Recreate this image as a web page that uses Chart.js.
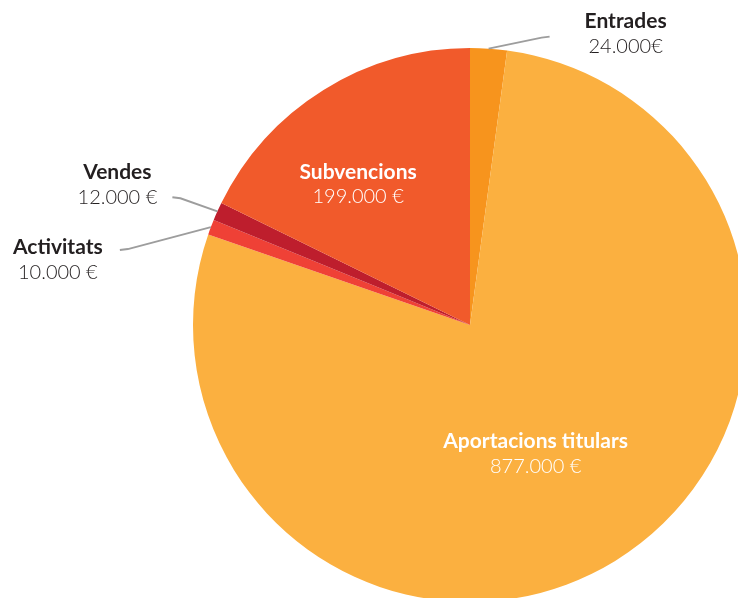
<!DOCTYPE html>
<html>
<head>
<meta charset="utf-8">
<script src="https://cdn.jsdelivr.net/npm/chart.js@4"></script>
<style>
html,body{margin:0;padding:0;background:#fff;overflow:hidden;width:738px;height:598px;}
#wrap{position:absolute;left:0;top:0;width:760px;height:620px;}
</style>
</head>
<body>
<div id="wrap"><canvas id="c" width="760" height="620"></canvas></div>
<script>
const categories = ["Entrades", "Aportacions titulars", "Activitats", "Vendes", "Subvencions"];
const values = [24000, 877000, 10000, 12000, 199000];
const valueLabels = ["24.000€", "877.000 €", "10.000 €", "12.000 €", "199.000 €"];
const colors = ["#F7941D", "#FBB040", "#EF4136", "#BE1E2D", "#F15A2B"];

// label placement styles (inside: polar offset; outside: leader line offsets from arc edge)
const labelStyles = [
  {mode: "out", elbow: [53, -11], tail: [61, -12], text: [137, -15]},
  {mode: "in", angleOffset: 4.5, rFactor: 0.52},
  {mode: "out", elbow: [-83, 22], tail: [-91, 23], text: [-153, 32]},
  {mode: "out", elbow: [-37, -13], tail: [-45, -14], text: [-100, -27]},
  {mode: "in", angleOffset: -6.5, rFactor: 0.65}
];

const FONT = "Lato, 'Open Sans', sans-serif";

const labelPlugin = {
  id: "sliceLabels",
  afterDatasetsDraw(chart) {
    const ctx = chart.ctx;
    const meta = chart.getDatasetMeta(0);
    meta.data.forEach((arc, i) => {
      const p = arc.getProps(["x", "y", "startAngle", "endAngle", "outerRadius"], true);
      const st = labelStyles[i];
      const mid = (p.startAngle + p.endAngle) / 2;
      ctx.save();
      ctx.textAlign = "center";
      ctx.textBaseline = "middle";
      if (st.mode === "in") {
        const a = mid + st.angleOffset * Math.PI / 180;
        const r = p.outerRadius * st.rFactor;
        const cx = p.x + Math.cos(a) * r;
        const cy = p.y + Math.sin(a) * r;
        ctx.fillStyle = "#ffffff";
        ctx.font = "bold 21px " + FONT;
        ctx.fillText(categories[i], cx, cy - 12);
        ctx.font = "300 20px " + FONT;
        ctx.fillText(valueLabels[i], cx, cy + 13);
      } else {
        const ex = p.x + Math.cos(mid) * p.outerRadius;
        const ey = p.y + Math.sin(mid) * p.outerRadius;
        ctx.strokeStyle = "#9d9d9d";
        ctx.lineWidth = 2;
        ctx.beginPath();
        ctx.moveTo(ex, ey);
        ctx.lineTo(ex + st.elbow[0], ey + st.elbow[1]);
        ctx.lineTo(ex + st.tail[0], ey + st.tail[1]);
        ctx.stroke();
        const tx = ex + st.text[0];
        const ty = ey + st.text[1];
        ctx.fillStyle = "#231F20";
        ctx.font = "bold 21px " + FONT;
        ctx.fillText(categories[i], tx, ty - 12);
        ctx.font = "300 20px " + FONT;
        ctx.fillText(valueLabels[i], tx, ty + 13);
      }
      ctx.restore();
    });
  }
};

new Chart(document.getElementById("c"), {
  type: "pie",
  data: {
    labels: categories,
    datasets: [{
      data: values,
      backgroundColor: colors,
      borderWidth: 0,
      hoverOffset: 0
    }]
  },
  options: {
    responsive: false,
    animation: false,
    layout: {padding: {left: 193, right: 13, top: 48, bottom: 18}},
    plugins: {legend: {display: false}, tooltip: {enabled: false}}
  },
  plugins: [labelPlugin]
});
</script>
</body>
</html>
